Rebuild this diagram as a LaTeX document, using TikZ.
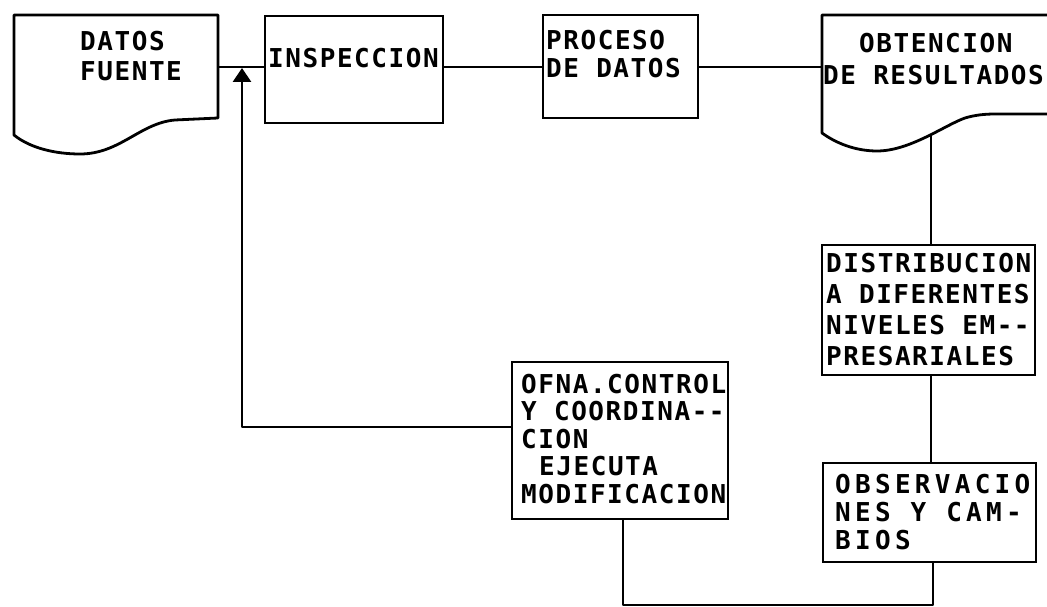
\documentclass[tikz,border=0pt]{standalone}
\usepackage{fontspec}
\usetikzlibrary{arrows.meta}
\newfontfamily\lpfont[LetterSpace=6]{DejaVu Sans Mono}
\newfontfamily\lpwide[LetterSpace=16.5]{DejaVu Sans Mono}
\newcommand\mylines[2]{\parbox[t]{340pt}{\raggedright\setlength{\baselineskip}{#1}#2}}
\tikzset{
  ln/.style={line width=2.8pt, line join=round},
  box/.style={draw, line width=2.8pt, inner sep=0pt, minimum width=#1},
  txt/.style={inner sep=0pt, anchor=base west, font=\lpfont\bfseries\fontsize{26}{30}\selectfont},
  txtw/.style={inner sep=0pt, anchor=base west, font=\lpwide\bfseries\fontsize{26}{30}\selectfont},
  fbarrow/.style={ln, -{Triangle[width=18pt,length=14pt]}}
}
\begin{document}
\begin{tikzpicture}[x=1pt,y=-1pt]
\useasboundingbox[fill=white] (0,0) rectangle (1047,607);

% document shapes
\draw[ln] (218,15) -- (14,15) -- (14,135)
  .. controls (30,148) and (55,154) .. (80,154)
  .. controls (120,154) and (140,123) .. (175,120)
  -- (218,118) -- cycle;
\draw[ln] (1050,15) -- (822,15) -- (822,133)
  .. controls (840,146) and (860,151) .. (877,151)
  .. controls (910,151) and (945,125) .. (965,118)
  .. controls (975,115) and (985,114) .. (995,114) -- (1050,114);

% boxes
\node[box=178pt, minimum height=107pt] (insp) at (354,69.5) {};
\node[box=155pt, minimum height=103pt] (proc) at (620.5,66.5) {};
\node[box=213pt, minimum height=130pt] (dist) at (928.5,310) {};
\node[box=213pt, minimum height=99pt] (obs) at (929.5,512.5) {};
\node[box=216pt, minimum height=157pt] (ofna) at (620,440.5) {};

% texts
\node[txt] (tdatos) at (80,51) {\mylines{30pt}{DATOS\\FUENTE}};
\node[txt] (tinsp) at (268,68) {INSPECCION};
\node[txt] (tproc) at (546,50) {\mylines{28pt}{PROCESO\\DE DATOS}};
\node[txt] (tobt) at (823,53) {\mylines{32pt}{\hspace*{36pt}OBTENCION\\DE RESULTADOS}};
\node[txt] (tdist) at (826,272) {\mylines{31pt}{DISTRIBUCION\\A DIFERENTES\\NIVELES EM--\\PRESARIALES}};
\node[txtw] (tobs) at (835,493) {\mylines{28pt}{OBSERVACIO\\NES Y CAM-\\BIOS}};
\node[txt] (tofna) at (521,393) {\mylines{27.5pt}{OFNA.CONTROL\\Y COORDINA--\\CION\\\hspace*{18pt}EJECUTA\\MODIFICACION}};

% connection points
\coordinate (datosR) at (218,67);
\coordinate (ly) at (0,67);
\coordinate (obtL) at (822,67);
\coordinate (obtB) at (931,135);
\coordinate (br) at (933,605);
\coordinate (bl) at (623,605);
\coordinate (fbc) at (242,427);
\coordinate (tip) at (242,68);

% connectors
\draw[ln] (datosR) -- (datosR -| insp.west);
\draw[ln] (insp.east |- ly) -- (proc.west |- ly);
\draw[ln] (proc.east |- ly) -- (obtL);
\draw[ln] (obtB) -- (obtB |- dist.north);
\draw[ln] (obtB |- dist.south) -- (obtB |- obs.north);
\draw[ln] (br |- obs.south) -- (br) -- (bl) -- (bl |- ofna.south);
\draw[fbarrow] (ofna.west |- fbc) -- (fbc) -- (tip);
\end{tikzpicture}
\end{document}
